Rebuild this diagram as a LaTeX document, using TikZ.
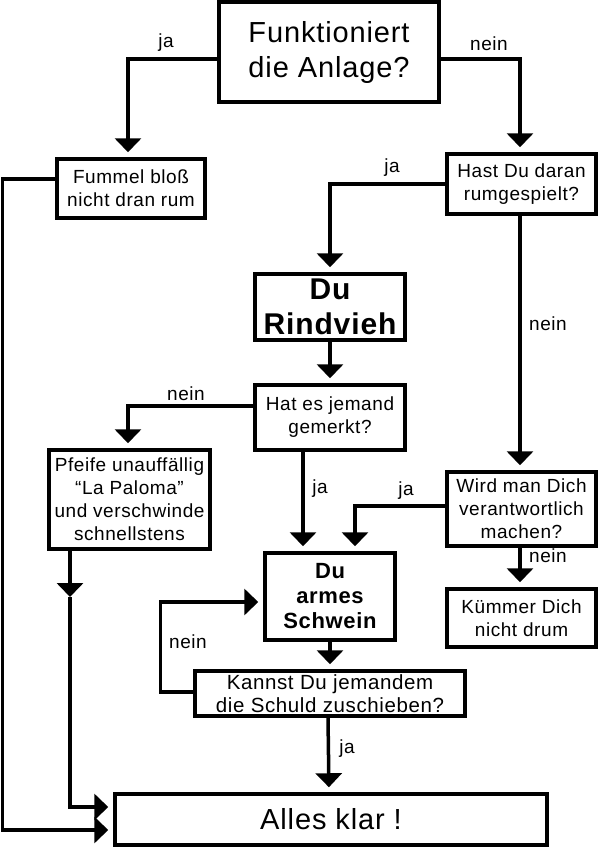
\documentclass[tikz,border=0pt]{standalone}
\usepackage{fontspec}
\setmainfont{Liberation Sans}[LetterSpace=3]
\usetikzlibrary{arrows.meta,calc}
\tikzset{
  box/.style={draw, line width=3.5pt, align=center, inner sep=2pt,
              font=\fontsize{19}{23}\selectfont},
  bigbox/.style={box, font=\fontsize{29}{35}\selectfont},
  boldbox/.style={box, font=\bfseries\fontsize{30}{35}\selectfont},
  arr/.style={-{Triangle[length=14pt,width=26pt]}, line width=3.5pt, shorten >=5pt},
  lab/.style={anchor=base, inner sep=0pt, font=\fontsize{19}{23}\selectfont}}

\begin{document}
\begin{tikzpicture}[x=1pt,y=-1pt]
  \useasboundingbox (0,0) rectangle (599,849);
  % boxes
  \node[bigbox, minimum width=220pt, minimum height=100pt] (funkt) at (329,52) {Funktioniert\\die Anlage?};
  \node[box, minimum width=148pt, minimum height=59pt] (fummel) at (131,188.5) {Fummel bloß\\nicht dran rum};
  \node[box, minimum width=149pt, minimum height=60pt] (hast) at (521.5,184) {Hast Du daran\\rumgespielt?};
  \node[boldbox, minimum width=150pt, minimum height=66pt] (rind) at (330,307) {Du\\Rindvieh};
  \node[box, minimum width=150pt, minimum height=65pt] (hat) at (330,417.5) {Hat es jemand\\gemerkt?};
  \node[box, minimum width=161pt, minimum height=99pt] (pfeife) at (129.5,499.5) {Pfeife unauffällig\\“La Paloma”\\und verschwinde\\schnellstens};
  \node[box, minimum width=149pt, minimum height=74pt] (wird) at (521.5,509) {Wird man Dich\\verantwortlich\\machen?};
  \node[boldbox, font=\bfseries\fontsize{22}{25}\selectfont, minimum width=130pt, minimum height=87pt] (armes) at (330,596.5) {Du\\armes\\Schwein};
  \node[box, minimum width=149pt, minimum height=58pt] (kuemmer) at (521.5,618) {Kümmer Dich\\nicht drum};
  \node[box, font=\fontsize{20.5}{23}\selectfont, minimum width=270pt, minimum height=45pt] (kannst) at (330,693.5) {Kannst Du jemandem\\die Schuld zuschieben?};
  \node[bigbox, minimum width=432pt, minimum height=51pt] (alles) at (331,819.5) {Alles klar !};

  % connectors
  \draw[arr] ([yshift=-7pt]funkt.west) -| ([xshift=-3pt]fummel.north);
  \draw[arr] ([yshift=-7pt]funkt.east) -| ([xshift=-1.5pt]hast.north);
  \draw[arr] (hast.west) -| (rind.north);
  \draw[arr] ([xshift=-1.5pt]hast.south) -- ([xshift=-1.5pt]wird.north);
  \draw[arr] (rind.south) -- (hat.north);
  \draw[arr] ([yshift=11.5pt]hat.west) -| ([xshift=-1.5pt]pfeife.north);
  \draw[arr] ([xshift=-27pt]hat.south) -- ([xshift=-27pt]armes.north);
  \draw[arr] ([yshift=3pt]wird.west) -| ([xshift=25pt]armes.north);
  \draw[arr] ([xshift=-1.5pt]wird.south) -- ([xshift=-1.5pt]kuemmer.north);
  \draw[arr] (armes.south) -- (kannst.north);
  \draw[arr] ([yshift=1.5pt]kannst.west) -- ++(-33,0) |- ([yshift=-5.5pt]armes.west);
  \draw[arr] ([xshift=-2pt]kannst.south) -- ([xshift=-2pt]alles.north);
  \coordinate (pmid) at (70,597);
  \draw[arr, shorten >=0pt] (pfeife.south -| pmid) -- (pmid);
  \draw[arr] (pmid) |- ([yshift=12.5pt]alles.west);
  \draw[arr] ([yshift=9.5pt]fummel.west) -- ++(-53,0) |- ([yshift=-10.5pt]alles.west);

  % labels
  \node[lab] (lja1) at (166,47) {ja};
  \node[lab] (lnein1) at (489,50) {nein};
  \node[lab] (lja2) at (392,172) {ja};
  \node[lab] (lnein2) at (548,330) {nein};
  \node[lab] (lnein3) at (186,400) {nein};
  \node[lab] (lja3) at (320,493) {ja};
  \node[lab] (lja4) at (406,495) {ja};
  \node[lab] (lnein4) at (548,562) {nein};
  \node[lab] (lnein5) at (188,648) {nein};
  \node[lab] (lja5) at (347,753) {ja};
\end{tikzpicture}
\end{document}
